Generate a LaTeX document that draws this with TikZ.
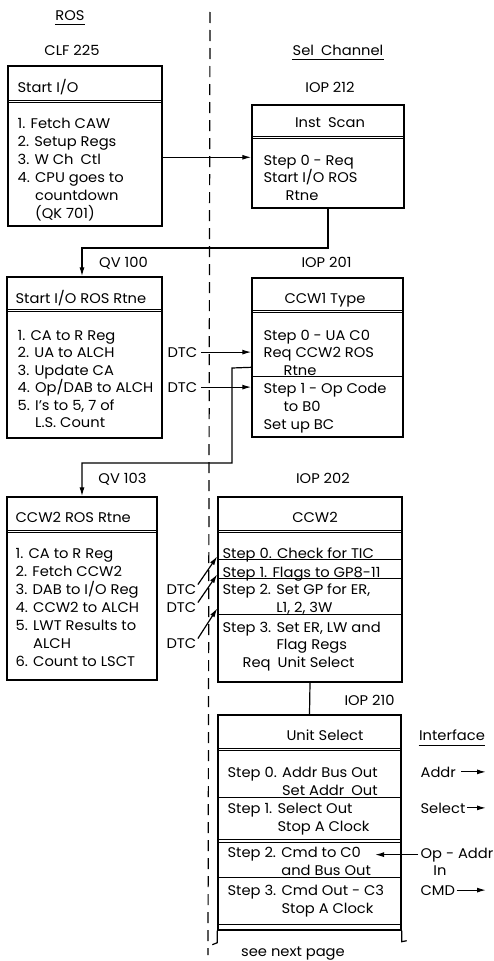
\documentclass[tikz,border=0pt]{standalone}
\usepackage{fontspec}
\setmainfont{Poppins}[FakeStretch=1.05]
\usetikzlibrary{arrows.meta, positioning, calc}

\begin{document}
\begin{tikzpicture}[x=1pt, y=-1pt, line width=1.2pt,
    font=\fontsize{14}{18}\selectfont,
    >={Latex[length=9pt, width=5pt]},
    frame/.style={draw, rectangle, inner sep=0pt, line width=1.4pt},
    lbl/.style={inner sep=0pt, anchor=base},
    body/.style={inner sep=0pt, anchor=base west, align=left},
    tight/.style={font=\fontsize{14}{17.5}\selectfont},
    thinline/.style={line width=0.8pt},
    sepline/.style={line width=1.2pt, dash pattern=on 11pt off 7pt}]
    \useasboundingbox (0,0) rectangle (493,961);

    % Column divider
    \draw[sepline] (210,12) -- (208,955);

    % Column headings
    \node[lbl] (ros) at (70,20) {ROS};
    \node[lbl] (sel) at (338,55) {Sel\hspace{7pt}Channel};
    \node[lbl] (iface) at (452,740) {Interface};
    \draw[thinline] ($(ros.base west)+(0,4.5)$) -- ($(ros.base east)+(0,4.5)$);
    \draw[thinline] ($(sel.base west)+(0,4.5)$) -- ($(sel.base east)+(0,4.5)$);
    \draw[thinline] ($(iface.base west)+(0,5)$) -- ($(iface.base east)+(0,5)$);

    % Page labels
    \node[lbl] (clflbl) at (72,55) {CLF 225};
    \node[lbl] (iop212lbl) at (330,92) {IOP 212};
    \node[lbl] (qv100lbl) at (123.5,267) {QV 100};
    \node[lbl] (iop201lbl) at (326.5,267) {IOP 201};
    \node[lbl] (qv103lbl) at (122.5,483) {QV 103};
    \node[lbl] (iop202lbl) at (323,483) {IOP 202};
    \node[lbl] (iop210lbl) at (369.5,705) {IOP 210};

    % Boxes
    \node[frame, minimum width=154pt, minimum height=160pt] (clf) at (85,146) {};
    \node[frame, minimum width=152pt, minimum height=103pt] (iop212) at (328,156.5) {};
    \node[frame, minimum width=155pt, minimum height=161pt] (qv100) at (84.5,357.5) {};
    \node[frame, minimum width=151pt, minimum height=159pt] (iop201) at (327.5,357.5) {};
    \node[frame, minimum width=150pt, minimum height=183pt] (qv103) at (82,588.5) {};
    \node[frame, minimum width=184pt, minimum height=185pt] (iop202) at (310,589.5) {};
    \node[frame, minimum width=183pt, minimum height=215pt] (iop210) at (309.5,822.5) {};

    % Box dividers
    \foreach \d in {35,37}
        \draw[thinline] ($(clf.north west)+(0,\d)$) -- ($(clf.north east)+(0,\d)$);
    \foreach \d in {32,34}
        \draw[thinline] ($(iop212.north west)+(0,\d)$) -- ($(iop212.north east)+(0,\d)$);
    \foreach \d in {33,35}
        \draw[thinline] ($(qv100.north west)+(0,\d)$) -- ($(qv100.north east)+(0,\d)$);
    \foreach \d in {33,35,99}
        \draw[thinline] ($(iop201.north west)+(0,\d)$) -- ($(iop201.north east)+(0,\d)$);
    \foreach \d in {34,36}
        \draw[thinline] ($(qv103.north west)+(0,\d)$) -- ($(qv103.north east)+(0,\d)$);
    \foreach \d in {34,36,63,82,118}
        \draw[thinline] ($(iop202.north west)+(0,\d)$) -- ($(iop202.north east)+(0,\d)$);
    \foreach \d in {34,36,83,125,128,163,210}
        \draw[thinline] ($(iop210.north west)+(0,\d)$) -- ($(iop210.north east)+(0,\d)$);

    % Open bottom of Unit Select
    \draw (iop210.south west) -- ++(0,12) -- ++(-5,2);
    \draw (iop210.south east) -- ++(0,11) -- ++(5,-1);
    \node[lbl] (nextpage) at (293,956) {see next page};

    % Headers
    \node[body] (hstart) at (17,92) {Start I/O};
    \node[lbl] (hinst) at (330,127) {Inst\hspace{7pt}Scan};
    \node[body] (hrtne) at (15,303) {Start I/O ROS Rtne};
    \node[lbl] (hccw1) at (325,303) {CCW1 Type};
    \node[body] (hccw2r) at (15,522) {CCW2 ROS Rtne};
    \node[lbl] (hccw2) at (315,522) {CCW2};
    \node[lbl] (hunit) at (325,740) {Unit Select};

    % Box texts (placed at the baseline of their last line)
    \node[body] (clftxt) at (17,218) {1. Fetch CAW\\ 2. Setup Regs\\ 3. W Ch\hspace{7pt}Ctl\\
        4. CPU goes to\\ \hphantom{4. }countdown\\ \hphantom{4. }(QK 701)};
    \node[body, tight] (insttxt) at (263,200) {Step 0 - Req\\ Start I/O ROS\\ \hspace{22pt}Rtne};
    \node[body, tight] (rtnetxt) at (17,427.5) {1. CA to R Reg\\
        2. UA to ALCH\\ 3. Update CA\\ 4. Op/DAB to ALCH\\ 5. I's to 5, 7 of\\ \hphantom{5. }L.S. Count};
    \node[body, tight] (ccw1a) at (263,375) {Step 0 - UA C0\\ Req CCW2 ROS\\ \hspace{20pt}Rtne};
    \node[body] (ccw1b) at (263,429) {Step 1 - Op Code\\ \hspace{20pt}to B0\\ Set up BC};
    \node[body] (ccw2rtxt) at (15,666) {1. CA to R Reg\\ 2. Fetch CCW2\\ 3. DAB to I/O Reg\\
        4. CCW2 to ALCH\\ 5. LWT Results to\\ \hphantom{5. }ALCH\\ 6. Count to LSCT};
    \node[body] (ccw2s0) at (222,558) {Step 0. Check for TIC};
    \node[body] (ccw2s1) at (222,577) {Step 1. Flags to GP8-11};
    \node[body] (ccw2s2) at (222,612) {Step 2. Set GP for ER,\\ \hphantom{Step 2. }L1, 2, 3W};
    \node[body, tight] (ccw2s3) at (222,667) {Step 3. Set ER, LW and\\ \hphantom{Step 3. }Flag Regs\\
        \hspace{20pt}Req\hspace{7pt}Unit Select};
    \node[body] (unit0) at (227,795) {Step 0. Addr Bus Out\\ \hphantom{Step 0. }Set Addr\hspace{7pt}Out};
    \node[body] (unit1) at (227,831) {Step 1. Select Out\\ \hphantom{Step 1. }Stop A Clock};
    \node[body] (unit2) at (227,875) {Step 2. Cmd to C0\\ \hphantom{Step 2. }and Bus Out};
    \node[body] (unit3) at (227,913) {Step 3. Cmd Out - C3\\ \hphantom{Step 3. }Stop A Clock};

    % DTC labels
    \node[body] (dtca) at (167,357) {DTC};
    \node[body] (dtcb) at (167,392) {DTC};
    \node[body] (dtcc) at (166,594) {DTC};
    \node[body] (dtcd) at (166,612) {DTC};
    \node[body] (dtce) at (166,648) {DTC};

    % Interface labels
    \node[body] (addr) at (420,777) {Addr};
    \node[body] (select) at (420,813) {Select};
    \node[body] (opaddr) at (420,858) {Op - Addr};
    \node[lbl] (opin) at (440,875) {In};
    \node[body] (cmd) at (420,895) {CMD};

    % Turn points
    \coordinate (turnA) at (82,248);
    \coordinate (turnB) at (232,368);
    \coordinate (turnC) at (82,463);
    \coordinate (addrEnd) at (486,772);
    \coordinate (selEnd) at (486,808);
    \coordinate (cmdEnd) at (486,890);
    \coordinate (opTip) at (375,853);

    % Arrows
    \draw[->] ($(clf.north east)+(0,92)$) -- ($(iop212.north west)+(0,53)$);
    \draw[->] (iop212.south) |- (turnA) -- (turnA |- qv100.north);
    \draw[->] ($(dtca.east)+(3,0)$) -- (dtca.east -| iop201.west);
    \draw[->] ($(dtcb.east)+(3,0)$) -- (dtcb.east -| iop201.west);
    \draw[->] ($(iop201.north west)+(0,90)$) -- (turnB) |- (turnC) -- (turnC |- qv103.north);
    \draw[->] ($(dtcc.north east)+(1,1)$) -- ($(iop202.north west)+(0,60)$);
    \draw[->] ($(dtcd.north east)+(1,1)$) -- ($(iop202.north west)+(0,78)$);
    \draw[->] ($(dtce.north east)+(1,1)$) -- ($(iop202.north west)+(0,112)$);
    \draw (iop202.south) -- (iop210.north);
    \draw[->] ($(addr.east)+(5,0)$) -- (addr.east -| addrEnd);
    \draw[->] ($(select.east)+(1,0)$) -- (select.east -| selEnd);
    \draw[->] ($(opaddr.west)+(-2,0)$) -- (opaddr.west -| opTip);
    \draw[->] ($(cmd.east)+(1,0)$) -- (cmd.east -| cmdEnd);
\end{tikzpicture}
\end{document}
